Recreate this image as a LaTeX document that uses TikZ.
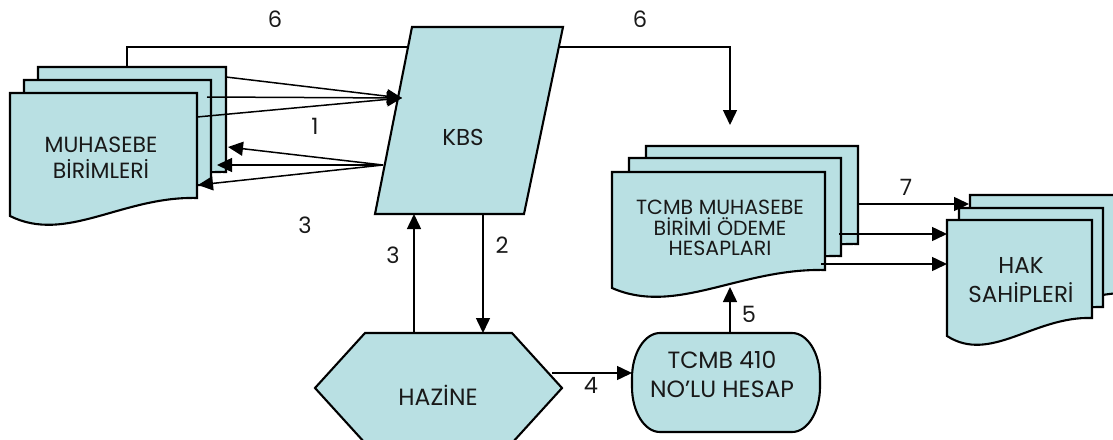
\documentclass[tikz,border=0pt]{standalone}
\usepackage{fontspec}
\setmainfont{Poppins}
\usetikzlibrary{arrows.meta}
\definecolor{boxfill}{RGB}{185,224,227}
\definecolor{ink}{RGB}{25,25,25}
\newcommand\mydoc[4]{%
  \path[shapesty] (#1,#2) -- ({#1+#3},#2) -- ({#1+#3},{#2+#4})
    .. controls ({#1+0.6*#3},{#2+#4-2}) and ({#1+0.3*#3},{#2+#4+46}) .. (#1,{#2+#4+18}) -- cycle;}
\begin{document}
\begin{tikzpicture}[x=1pt,y=-1pt,
  shapesty/.style={draw=black,fill=boxfill,line width=2.1pt,line join=miter},
  conn/.style={line width=1.5pt,-{Triangle[length=15pt,width=14pt]}},
  lbl/.style={text=ink,inner sep=0pt,align=center},
  num/.style={font=\fontsize{22.5}{25}\selectfont,text=ink,inner sep=0pt}]
\useasboundingbox (0,0) rectangle (1113,439);
\clip (0,0) rectangle (1113,439);

% ---------- coordinates for connectors
\coordinate (m6) at (127,67);
\coordinate (t6) at (730,125);
\coordinate (mb1) at (226,77);
\coordinate (mm1) at (207,97);
\coordinate (mf1) at (197,117);
\coordinate (k1) at (402,98);
\coordinate (k3) at (383,165);
\coordinate (mb3) at (228,147);
\coordinate (mm3) at (217,165);
\coordinate (mf3) at (198,185);
\coordinate (k2) at (483,214);
\coordinate (h2) at (483,333);
\coordinate (h3) at (414,333);
\coordinate (k3b) at (414,214);
\coordinate (h4) at (552,373);
\coordinate (n4) at (632,373);
\coordinate (n5) at (730,333);
\coordinate (t5) at (730,287);
\coordinate (tb7) at (858,204);
\coordinate (hb7) at (969,204);
\coordinate (tm7) at (839,234);
\coordinate (hm7) at (947,234);
\coordinate (tf7) at (821,264);
\coordinate (hf7) at (947,264);

% ---------- connector 6 (behind KBS)
\draw[conn] (m6) |- (t6 |- 0,47) -- (t6);

% ---------- MUHASEBE BIRIMLERI documents
\mydoc{38}{67}{188}{105}
\mydoc{24}{80}{187}{105}
\mydoc{10}{93}{187}{105}
\node[lbl,font=\fontsize{22}{26}\selectfont] (muh) at (101,158) {MUHASEBE\\BİRİMLERİ};

% ---------- TCMB documents
\mydoc{646}{146}{212}{98}
\mydoc{629}{158}{212}{98}
\mydoc{612}{172}{213}{98}
\node[lbl,font=\fontsize{20.5}{20.5}\selectfont] (tcmb) at (720,228) {TCMB MUHASEBE\\BİRİMİ ÖDEME\\HESAPLARI};

% ---------- HAK SAHIPLERI documents
\mydoc{970}{195}{160}{98}
\mydoc{959}{208}{144}{99}
\mydoc{947}{220}{145}{98}
\node[lbl,font=\fontsize{23}{29}\selectfont] (hak) at (1021,280) {HAK\\SAHİPLERİ};

% ---------- KBS
\path[shapesty] (412,27) -- (563,27) -- (524,214) -- (375,214) -- cycle;
\node[lbl,font=\fontsize{23}{26}\selectfont] (kbs) at (463,137) {KBS};

% ---------- HAZINE
\path[shapesty] (365,333) -- (512,333) -- (562,388) -- (512,443) -- (365,443) -- (315,388) -- cycle;
\node[lbl,font=\fontsize{23.5}{26}\selectfont] (haz) at (438,395) {HAZİNE};

% ---------- TCMB 410
\path[shapesty] (660,333) -- (792,333) arc[start angle=90,end angle=0,x radius=28,y radius=-45]
  -- (820,387) arc[start angle=0,end angle=-90,x radius=28,y radius=-45]
  -- (660,432) arc[start angle=270,end angle=180,x radius=28,y radius=-45]
  -- (632,378) arc[start angle=180,end angle=90,x radius=28,y radius=-45] -- cycle;
\node[lbl,font=\fontsize{23.5}{29}\selectfont] (n410) at (722,374) {TCMB 410\\NO’LU HESAP};

% ---------- connectors
\draw[conn] (mb1) -- (k1);
\draw[conn] (mm1) -- (k1);
\draw[conn] (mf1) -- (k1);
\draw[conn] (k3) -- (mb3);
\draw[conn] (k3) -- (mm3);
\draw[conn] (k3) -- (mf3);
\draw[conn] (k2) -- (h2);
\draw[conn] (h3) -- (k3b);
\draw[conn] (h4) -- (n4);
\draw[conn] (n5) -- (t5);
\draw[conn] (tb7) -- (hb7);
\draw[conn] (tm7) -- (hm7);
\draw[conn] (tf7) -- (hf7);

% ---------- labels
\node[num] (l6a) at (275,19) {6};
\node[num] (l6b) at (640,19) {6};
\node[num] (l1) at (315,126) {1};
\node[num] (l3a) at (305,225) {3};
\node[num] (l2) at (502,245) {2};
\node[num] (l3b) at (393,255) {3};
\node[num] (l4) at (591,385) {4};
\node[num] (l5) at (749,314) {5};
\node[num] (l7) at (906,187) {7};
\end{tikzpicture}
\end{document}
